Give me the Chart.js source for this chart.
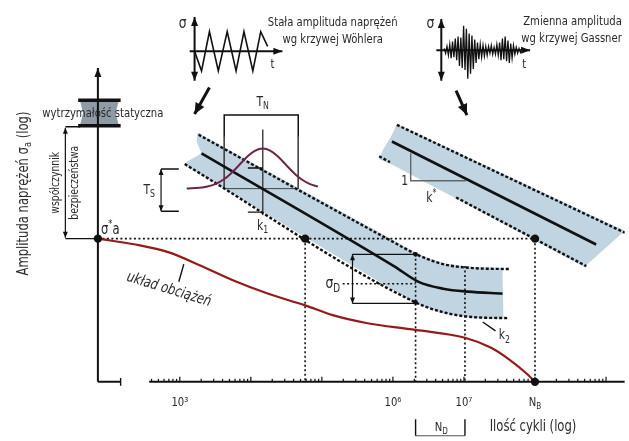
<!DOCTYPE html>
<html>
<head>
<meta charset="utf-8">
<script src="https://cdn.jsdelivr.net/npm/chart.js@4.4.0/dist/chart.umd.min.js"></script>
<style>
  html, body { margin: 0; padding: 0; background: #fff; }
  #wrap { width: 629px; height: 441px; }
</style>
</head>
<body>
<div id="wrap"><canvas id="c"></canvas></div>
<script>
// x = log10(ilość cykli), y = log amplitudy (jednostki umowne, 0 = oś pozioma)
const xMin = 0.528, xMax = 9.264, yMin = -56, yMax = 385;

const xTickValues = [3, 6, 7, 8];
const xTickLabels = ["10³", "10⁶", "10⁷", "N_B"];
const yAxisX = 1.847;
const sigmaAStar = 146;
const logN1 = 4.764, logND1 = 6.319, logND2 = 7.014, logNB = 8;

// układ obciążeń (krzywa czerwona)
const loadX = [1.847, 2.375, 2.847, 3.306, 3.764, 4.236, 4.764, 5.153, 5.625, 6.319, 7.014, 7.375, 7.653, 7.889, 8.0];
const loadY = [146, 140, 132, 118, 103, 90, 78, 68, 60, 53, 45, 35, 22, 8, 0];

// pasmo Wöhlera
const woehlerMidX = [3.306, 6.014, 6.361, 6.708, 7.056, 7.542];
const woehlerMidY = [233, 118, 102, 95, 92, 90];
const woehlerUpX = [3.264, 5.111, 5.944, 6.361, 6.708, 7.125, 7.653];
const woehlerUpY = [252, 178, 145, 129, 120, 116, 115];
const woehlerLowX = [3.069, 6.319, 6.708, 7.125, 7.611];
const woehlerLowY = [222, 81, 71, 66, 65];
const woehlerBandX = [3.25, 5.111, 5.944, 6.361, 6.708, 7.125, 7.542, 7.556, 7.125, 6.708, 6.319, 3.069, 3.111, 3.306, 3.236];
const woehlerBandY = [254, 180, 147, 130, 121, 117, 116, 64, 65, 70, 80, 221, 225, 233, 245];

// pasmo Gassnera
const gassnerMidX = [5.986, 8.861], gassnerMidY = [245, 140];
const gassnerUpX = [6.056, 9.264], gassnerUpY = [262, 152];
const gassnerLowX = [6.889, 8.722], gassnerLowY = [188, 118];
const gassnerStubX = [5.806, 5.958], gassnerStubY = [230, 224];
const gassnerBandX = [6.056, 9.264, 8.694, 6.889, 5.972, 5.806, 5.861, 5.972];
const gassnerBandY = [263, 154, 117, 187, 222, 227, 237, 250];

// rozkład rozrzutu (krzywa dzwonowa)
const gaussX = [3.097, 3.278, 3.389, 3.5, 3.611, 3.722, 3.833, 3.944, 4.056, 4.167, 4.278, 4.389, 4.5, 4.611, 4.722, 4.833, 4.944];
const gaussY = [197.1, 197.9, 199.1, 201.6, 206, 212.6, 220.8, 229.2, 235.6, 238, 235.6, 229.2, 220.8, 212.6, 206, 201.6, 199.1];

// wytrzymałość statyczna
const staticBandX = [1.597, 2.139, 2.097, 2.139, 1.597, 1.639];
const staticBandY = [286, 286, 274, 262, 262, 274];

// wstawki: stała i zmienna amplituda
const triX = [3.208, 3.306, 3.417, 3.542, 3.667, 3.792, 3.903, 4.028, 4.139, 4.236];
const triY = [337, 317, 357, 317, 357, 317, 357, 317, 357, 342];
const gassnerX0 = 6.722, gassnerDx = 0.0195, gassnerY0 = 338;
const gassnerSignal = [2, -3, 4, -5, 6, -8, 9, -7, 12, -10, 14, -16, 13, -18, 25, -20, 22, -29, 17, -24, 15, -19, 11, -13,
  8, -9, 6, -7, 5, -6, 4, -5, 4, -3, 5, -4, 3, -4, 6, -5, 8, -10, 12, -9, 14, -11, 10, -13, 7, -8, 5, -4, 3, -3, 2, -2,
  2, -1, 1, -1];

// linie pomocnicze [x0, y0, x1, y1]
const solidLines = [
  [1.389, 146, 1.847, 146], [1.389, 260, 1.597, 260],          // współczynnik bezpieczeństwa
  [2.736, 217, 2.986, 217], [2.736, 174, 2.986, 174],          // T_S
  [5.431, 130, 6.319, 130], [5.431, 80, 6.319, 80],            // sigma_D
  [3.958, 218, 4.167, 218], [3.958, 173, 4.167, 173],
  [7.264, 61, 7.444, 52], [2.986, 102, 3.056, 120],            // odnośniki
  [6.319, -38, 6.319, -55], [7.014, -38, 7.014, -55],          // N_D
  [2.167, -4, 2.167, 4]
];
const thinLines = [
  [3.625, 250, 3.625, 197], [4.667, 250, 4.667, 197], [3.625, 197, 4.667, 197],
  [4.167, 257, 4.167, 170], [6.319, -55, 7.014, -55]
];
const dottedLines = [
  [yAxisX, sigmaAStar, logNB, sigmaAStar],
  [logN1, sigmaAStar, logN1, 0], [logND1, 130, logND1, 0], [logND2, 118, logND2, 0], [logNB, sigmaAStar, logNB, 0],
  [5.292, 100, 6.319, 100]
];
// strzałki [x0, y0, x1, y1, grubość, obustronna]
const arrows = [
  [yAxisX, 0, yAxisX, 320, 2, false],
  [1.389, 147, 1.389, 259, 1.2, true],
  [2.736, 174, 2.736, 217, 1.2, true],
  [5.431, 80, 5.431, 130, 1.2, true],
  [3.208, 307, 3.208, 372, 2, true], [3.139, 337, 4.444, 337, 2, false],
  [6.681, 307, 6.681, 370, 2, true], [6.611, 338, 7.931, 338, 2, false],
  [3.417, 300, 3.208, 273, 3, false], [6.889, 297, 7.042, 272, 3, false]
];
const bigDots = [[yAxisX, sigmaAStar], [logN1, sigmaAStar], [logNB, sigmaAStar], [logNB, 0]];
const smallDots = [[logND1, 130], [logND1, 81]];

const FONT = '"Liberation Sans Narrow", "DejaVu Sans Condensed", "Liberation Sans", sans-serif';
const COND = 0.86; // zwężenie napisów (krój techniczny)
// opisy: tekst (_ indeks dolny, ^ indeks górny), x, y, rozmiar, wyrównanie, obrót, kursywa
const texts = [
  ["Stała amplituda naprężeń", 5.153, 366, 13, "center", 0],
  ["wg krzywej Wöhlera", 5.153, 349, 13, "center", 0],
  ["Zmienna amplituda", 9.222, 367, 13, "right", 0],
  ["wg krzywej Gassner", 9.222, 350, 13, "right", 0],
  ["σ", 3.042, 365, 16, "center", 0], ["t", 4.306, 323, 13, "center", 0],
  ["σ", 6.528, 365, 16, "center", 0], ["t", 7.847, 323, 13, "center", 0],
  ["T_N", 4.167, 285, 14, "center", 0], ["T_S", 2.569, 195, 14, "center", 0],
  ["k_1", 4.167, 159, 14, "center", 0], ["σ_D", 5.153, 100, 16, "center", 0],
  ["k_2", 7.569, 47, 14, "center", 0], ["1", 6.167, 204, 14, "center", 0],
  ["k^*", 6.542, 187, 14, "center", 0], ["σ^*a", 1.889, 155, 15, "left", 0],
  ["układ obciążeń", 2.847, 94, 15, "center", 17, true],
  ["wytrzymałość statyczna", 1.917, 273, 13, "center", 0],
  ["współczynnik", 1.25, 203, 12, "center", -90],
  ["bezpieczeństwa", 1.528, 203, 12, "center", -90],
  ["Amplituda naprężeń σ_a (log)", 0.806, 192, 15, "center", -90],
  ["N_D", 6.681, -47, 13, "center", 0],
  ["Ilość cykli (log)", 7.972, -46, 15, "center", 0]
];

const P = (xs, ys) => xs.map((x, i) => ({ x: x, y: ys[i] }));
const L = (s) => [{ x: s[0], y: s[1] }, { x: s[2], y: s[3] }];

function line(data, color, width, extra) {
  return Object.assign({
    data: data, showLine: true, borderColor: color, borderWidth: width,
    pointRadius: 0, fill: false, tension: 0
  }, extra || {});
}

function parseRich(str) {
  const parts = [];
  for (let i = 0; i < str.length; i++) {
    const c = str[i];
    if ((c === "_" || c === "^") && i + 1 < str.length) {
      parts.push([str[i + 1], c === "_" ? "sub" : "sup"]);
      i++;
    } else if (parts.length && !parts[parts.length - 1][1]) {
      parts[parts.length - 1][0] += c;
    } else {
      parts.push([c, ""]);
    }
  }
  return parts;
}

function drawRich(ctx, str, px, py, size, align, rot, italic) {
  const parts = parseRich(str);
  let w = 0;
  const seg = parts.map(([s, m]) => {
    const fs = m ? size * 0.72 : size;
    ctx.font = (italic ? "italic " : "") + fs + "px " + FONT;
    const sw = ctx.measureText(s).width;
    w += sw;
    return { s, m, fs, sw };
  });
  ctx.save();
  ctx.translate(px, py);
  if (rot) ctx.rotate(rot * Math.PI / 180);
  ctx.scale(COND, 1);
  let x = align === "left" ? 0 : align === "right" ? -w : -w / 2;
  ctx.textBaseline = "middle";
  ctx.textAlign = "left";
  ctx.fillStyle = "#2a2a2a";
  for (const r of seg) {
    ctx.font = (italic ? "italic " : "") + r.fs + "px " + FONT;
    const dy = r.m === "sub" ? size * 0.3 : r.m === "sup" ? -size * 0.35 : 0;
    ctx.fillText(r.s, x, dy);
    x += r.sw;
  }
  ctx.restore();
}

function head(ctx, x0, y0, x1, y1, len, wid) {
  const a = Math.atan2(y1 - y0, x1 - x0);
  const c = Math.cos(a), s = Math.sin(a);
  ctx.beginPath();
  ctx.moveTo(x1, y1);
  ctx.lineTo(x1 - len * c + wid * s, y1 - len * s - wid * c);
  ctx.lineTo(x1 - len * c - wid * s, y1 - len * s + wid * c);
  ctx.closePath();
  ctx.fill();
}

const overlay = {
  id: "overlay",
  afterDatasetsDraw(chart) {
    const { ctx } = chart;
    const X = (v) => chart.scales.x.getPixelForValue(v);
    const Y = (v) => chart.scales.y.getPixelForValue(v);
    ctx.save();
    // podziałka logarytmiczna osi x
    ctx.strokeStyle = "#111";
    ctx.lineWidth = 1.2;
    for (let d = 2; d <= 9; d++) {
      for (let k = 1; k <= 9; k++) {
        const v = d + Math.log10(k);
        if (v < 2.58 || v > xMax) continue;
        const len = k === 1 ? 5 : 3;
        ctx.beginPath();
        ctx.moveTo(X(v), Y(0));
        ctx.lineTo(X(v), Y(0) - len);
        ctx.stroke();
      }
    }
    // groty strzałek
    ctx.fillStyle = "#111";
    arrows.forEach(([x0, y0, x1, y1, w, both]) => {
      const len = w >= 3 ? 11 : w >= 2 ? 9 : 6;
      const hw = w >= 3 ? 5 : w >= 2 ? 3.5 : 2.5;
      head(ctx, X(x0), Y(y0), X(x1), Y(y1), len, hw);
      if (both) head(ctx, X(x1), Y(y1), X(x0), Y(y0), len, hw);
    });
    // opisy osi x i pozostałe napisy
    xTickValues.forEach((v, i) => drawRich(ctx, xTickLabels[i], X(v), Y(-21), 13, "center", 0));
    texts.forEach((t) => drawRich(ctx, t[0], X(t[1]), Y(t[2]), t[3], t[4], t[5], t[6]));
    ctx.restore();
  }
};

const BAND = "#c1d4e1";
const DARK = "#111";
const ds = [];
ds.push(line(P(woehlerBandX, woehlerBandY), BAND, 0, { fill: "shape", backgroundColor: BAND }));
ds.push(line(P(gassnerBandX, gassnerBandY), BAND, 0, { fill: "shape", backgroundColor: BAND }));
ds.push(line(P(staticBandX, staticBandY), "#8e9ba6", 0, { fill: "shape", backgroundColor: "#8e9ba6" }));
thinLines.forEach((s) => ds.push(line(L(s), "#444", 1)));
dottedLines.forEach((s) => ds.push(line(L(s), DARK, 1.6, { borderDash: [2, 2.5] })));
[[woehlerUpX, woehlerUpY], [woehlerLowX, woehlerLowY]].forEach(([xs, ys]) =>
  ds.push(line(P(xs, ys), DARK, 2.4, { borderDash: [3, 2], cubicInterpolationMode: "monotone" })));
[[gassnerUpX, gassnerUpY], [gassnerLowX, gassnerLowY], [gassnerStubX, gassnerStubY]].forEach(([xs, ys]) =>
  ds.push(line(P(xs, ys), DARK, 2.4, { borderDash: [3, 2] })));
ds.push(line(P(woehlerMidX, woehlerMidY), DARK, 2.6, { cubicInterpolationMode: "monotone" }));
ds.push(line(P(gassnerMidX, gassnerMidY), DARK, 2.6));
ds.push(line([{ x: 6.25, y: 233 }, { x: 6.25, y: 205 }, { x: 7.028, y: 205 }], "#666", 1.4));
ds.push(line(P(gaussX, gaussY), "#6e2448", 2, { tension: 0.4 }));
ds.push(line(P(loadX, loadY), "#961a1a", 2.2, { cubicInterpolationMode: "monotone" }));
// osie
ds.push(line([{ x: yAxisX, y: 0 }, { x: 2.167, y: 0 }], DARK, 2));
ds.push(line([{ x: 2.569, y: 0 }, { x: xMax, y: 0 }], DARK, 2));
ds.push(line([{ x: 1.569, y: 287 }, { x: 2.167, y: 287 }], DARK, 3.5));
ds.push(line([{ x: 1.569, y: 261 }, { x: 2.167, y: 261 }], DARK, 3.5));
ds.push(line([{ x: 3.625, y: 250 }, { x: 3.625, y: 272 }, { x: 4.667, y: 272 }, { x: 4.667, y: 250 }], DARK, 1.5));
solidLines.forEach((s) => ds.push(line(L(s), DARK, 1.4)));
arrows.forEach((a) => ds.push(line(L(a), DARK, a[4])));
// wstawki
ds.push(line(P(triX, triY), DARK, 1.6));
ds.push(line(gassnerSignal.map((v, i) => ({ x: gassnerX0 + i * gassnerDx, y: gassnerY0 + v })), DARK, 1.3));
// punkty
ds.push({ data: bigDots.map(([x, y]) => ({ x, y })), pointRadius: 4.2, pointBackgroundColor: DARK, pointBorderWidth: 0 });
ds.push({ data: smallDots.map(([x, y]) => ({ x, y })), pointRadius: 2.4, pointBackgroundColor: DARK, pointBorderWidth: 0 });

new Chart(document.getElementById("c").getContext("2d"), {
  type: "scatter",
  data: { datasets: ds.reverse() },
  options: {
    responsive: true,
    maintainAspectRatio: false,
    animation: false,
    events: [],
    layout: { padding: 0 },
    scales: {
      x: { type: "linear", min: xMin, max: xMax, display: false },
      y: { type: "linear", min: yMin, max: yMax, display: false }
    },
    plugins: { legend: { display: false }, tooltip: { enabled: false } }
  },
  plugins: [overlay]
});
</script>
</body>
</html>
